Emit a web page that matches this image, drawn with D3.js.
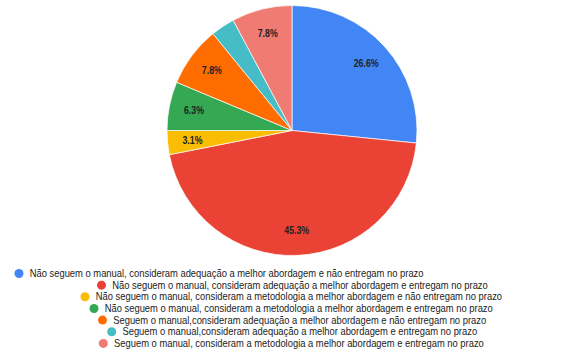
<!DOCTYPE html>
<html>
<head>
<meta charset="utf-8">
<script src="https://cdn.jsdelivr.net/npm/d3@7"></script>
<style>
  body { margin: 0; background: #fff; }
  svg { display: block; font-family: "Liberation Sans", Arial, sans-serif; }
</style>
</head>
<body>
<div id="chart"></div>
<script>
// categories and values
var categories = [
  "Não seguem o manual, consideram adequação a melhor abordagem e não entregam no prazo",
  "Não seguem o manual, consideram adequação a melhor abordagem e entregam no prazo",
  "Não seguem o manual, consideram a metodologia a melhor abordagem e não entregam no prazo",
  "Não seguem o manual, consideram a metodologia a melhor abordagem e entregam no prazo",
  "Seguem o manual,consideram adequação a melhor abordagem e não entregam no prazo",
  "Seguem o manual,consideram adequação a melhor abordagem e entregam no prazo",
  "Seguem o manual, consideram a metodologia a melhor abordagem e entregam no prazo"
];
var values = [26.6, 45.3, 3.1, 6.3, 7.8, 3.1, 7.8];
var colors = ["#4285f4", "#ea4335", "#fbbc04", "#34a853", "#ff6d01", "#46bdc6", "#f07b72"];

// legend rows are not aligned, so keep their x here (circle centres)
var legendX = [19, 101.5, 85, 94, 102.5, 111.7, 103.3];

var width = 575, height = 354;
var cx = 292, cy = 130.5, r = 125;

var svg = d3.select("#chart").append("svg")
    .attr("width", width)
    .attr("height", height);

var data = categories.map(function(c, i) {
  return {name: c, value: values[i], color: colors[i]};
});

var pie = d3.pie()
    .sort(null)
    .value(function(d) { return d.value; });

var arc = d3.arc().innerRadius(0).outerRadius(r);
var labelR = r * 0.8;
var labelArc = d3.arc().innerRadius(labelR).outerRadius(labelR);

var g = svg.append("g")
    .attr("transform", "translate(" + cx + "," + cy + ")");

var arcs = pie(data);

g.selectAll(".slice")
    .data(arcs)
    .enter().append("path")
    .attr("class", "slice")
    .attr("d", arc)
    .attr("fill", function(d) { return d.data.color; })
    .attr("stroke", "#fff")
    .attr("stroke-width", 0.7);

var labels = g.selectAll(".label")
    .data(arcs)
    .enter().append("text")
    .attr("class", "label")
    .attr("transform", function(d) { return "translate(" + labelArc.centroid(d) + ") scale(0.88,1)"; })
    .attr("text-anchor", "middle")
    .attr("dy", "0.35em")
    .style("font-size", "10px")
    .style("font-weight", "bold")
    .attr("fill", "#222")
    .text(function(d) { return d.data.value.toFixed(1) + "%"; });

// hide labels that do not fit inside their slice
labels.each(function(d) {
  var bb = this.getBBox();
  var a = (d.startAngle + d.endAngle) / 2;
  var need = bb.width * 0.88 * Math.abs(Math.cos(a)) + bb.height * Math.abs(Math.sin(a));
  var room = labelR * (d.endAngle - d.startAngle);
  if (need > room) d3.select(this).remove();
});

var y0 = 273.5, step = 11.65;

var legend = svg.selectAll(".legend")
    .data(data)
    .enter().append("g")
    .attr("class", "legend")
    .attr("transform", function(d, i) {
      return "translate(" + legendX[i] + "," + (y0 + i * step) + ")";
    });

legend.append("circle")
    .attr("r", 4.5)
    .attr("fill", function(d) { return d.color; });

legend.append("text")
    .attr("transform", "translate(10.7,0) scale(0.94,1)")
    .attr("dy", "0.35em")
    .style("font-size", "10px")
    .attr("fill", "#222")
    .text(function(d) { return d.name; });
</script>
</body>
</html>
